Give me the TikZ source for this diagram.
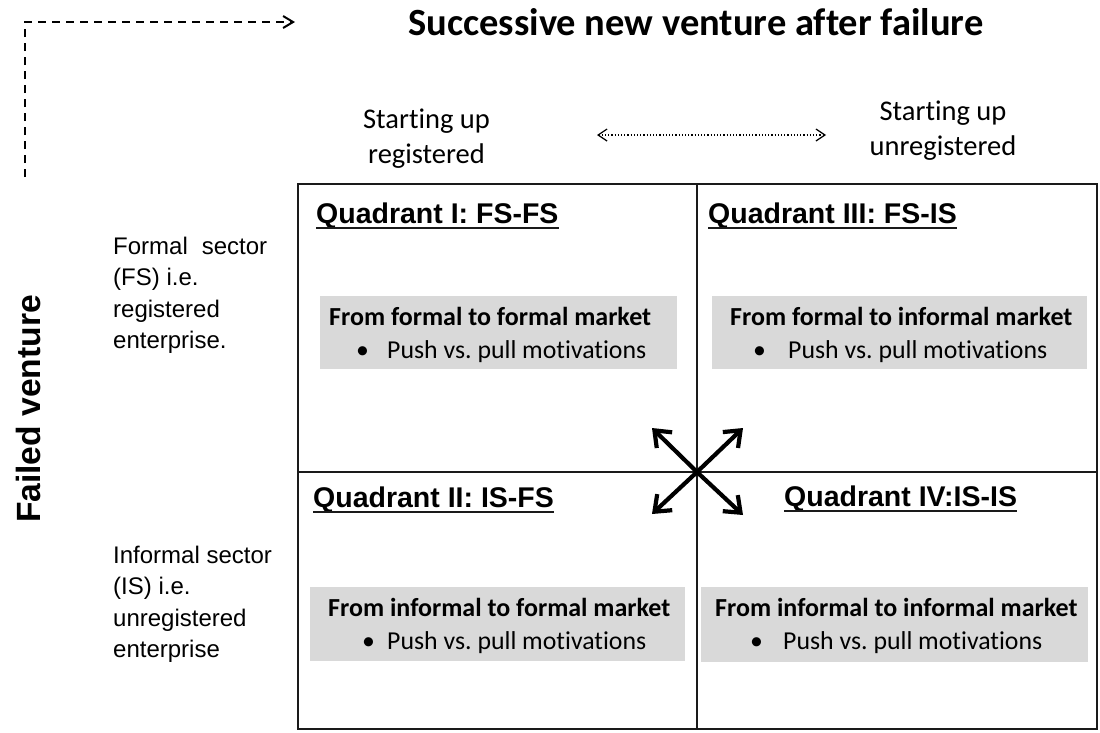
\documentclass[tikz,border=0pt]{standalone}
\usepackage{fontspec}
\setmainfont{Carlito}[Ligatures={NoCommon}]
\newfontfamily\arialf{Liberation Sans}
\usetikzlibrary{arrows.meta}
\definecolor{boxgray}{HTML}{D9D9D9}
\definecolor{linecol}{HTML}{1A1A1A}
\frenchspacing
\begin{document}
\begin{tikzpicture}[x=1pt,y=-1pt,
  gridline/.style={draw=linecol,line width=1.8pt},
  quadhead/.style={inner sep=0pt,anchor=base west,font=\arialf\bfseries\fontsize{28.5}{34}\selectfont},
  uline/.style={line width=1.8pt,draw=linecol},
  gbox/.style={fill=boxgray,draw=none,inner sep=0pt,outer sep=0pt,anchor=north west},
  boxhead/.style={inner sep=0pt,anchor=base west,font=\bfseries\fontsize{26}{31}\selectfont},
  boxtxt/.style={inner sep=0pt,anchor=base west,font=\fontsize{25.8}{31}\selectfont},
  sidelab/.style={inner sep=0pt,anchor=base west,font=\arialf\fontsize{24}{31.5}\selectfont},
  toplab/.style={inner sep=0pt,anchor=base,font=\fontsize{28.5}{35}\selectfont},
  crossarrow/.style={line width=4.2pt,line cap=round,-{Straight Barb[length=14pt,width=22pt]}},
  dasharrow/.style={line width=2pt,dash pattern=on 8pt off 6pt,-{Straight Barb[length=10pt,width=12pt]}},
  dotarrow/.style={line width=1.2pt,dotted,{Straight Barb[length=9pt,width=12pt]}-{Straight Barb[length=9pt,width=12pt]}}
]
\useasboundingbox (0,0) rectangle (1100,732);

% title
\node[inner sep=0pt,anchor=base,font=\bfseries\fontsize{38.5}{44}\selectfont] (title) at (696,35) {Successive new venture after failure};

% dashed corner arrow
\coordinate (d0) at (25,177);
\coordinate (d2) at (295,22);
\draw[dasharrow] (d0) |- (d2);

% top labels
\node[toplab] (reg) at (426.5,128) {\begin{tabular}[t]{@{}c@{}}Starting up\\registered\end{tabular}};
\node[toplab] (unreg) at (943,120) {\begin{tabular}[t]{@{}c@{}}Starting up\\unregistered\end{tabular}};
\coordinate (dl) at (597,135);
\coordinate (dr) at (826,135);
\draw[dotarrow] (dl) -- (dr);

% side labels
\node[inner sep=0pt,rotate=90,font=\arialf\bfseries\fontsize{33.6}{40}\selectfont] (failed) at (28,409) {Failed venture};
\node[sidelab] (fs) at (113,254) {\begin{tabular}[t]{@{}l@{}}\makebox[154pt][s]{Formal sector}\\(FS) i.e.\\registered\\enterprise.\end{tabular}};
\node[sidelab] (is) at (113,563) {\begin{tabular}[t]{@{}l@{}}Informal sector\\(IS) i.e.\\unregistered\\enterprise\end{tabular}};

% grid
\draw[gridline] (298,184) rectangle (1097,729);
\draw[gridline] (697,184) -- (697,729);
\draw[gridline] (298,472) -- (1097,472);

% gray boxes
\node[gbox,minimum width=357pt,minimum height=73pt] (b1) at (320,296) {};
\node[gbox,minimum width=375pt,minimum height=73pt] (b3) at (712,296) {};
\node[gbox,minimum width=375pt,minimum height=74pt] (b2) at (310,587) {};
\node[gbox,minimum width=387pt,minimum height=75pt] (b4) at (701,587) {};

% quadrant headings
\node[quadhead] (h1) at (316,223) {Quadrant I: FS-FS};
\node[quadhead] (h3) at (708,223) {Quadrant III: FS-IS};
\node[quadhead] (h2) at (313,507) {Quadrant II: IS-FS};
\node[quadhead] (h4) at (784,506) {Quadrant IV:IS-IS};
\foreach \h in {h1,h2,h3,h4}{
  \draw[uline] ([yshift=-5pt]\h.base west) -- ([yshift=-5pt]\h.base east);
}

% box texts
\node[boxhead] (t1) at (329,325) {From formal to formal market};
\node[boxtxt] (u1) at (356,358) {\textbullet};
\node[boxtxt] (p1) at (387,358) {Push vs. pull motivations};

\node[boxhead] (t3) at (730,325) {From formal to informal market};
\node[boxtxt] (u3) at (753,358) {\textbullet};
\node[boxtxt] (p3) at (788,358) {Push vs. pull motivations};

\node[boxhead] (t2) at (328,616) {From informal to formal market};
\node[boxtxt] (u2) at (362,649) {\textbullet};
\node[boxtxt] (p2) at (387,649) {Push vs. pull motivations};

\node[boxhead] (t4) at (715,616) {From informal to informal market};
\node[boxtxt] (u4) at (750,649) {\textbullet};
\node[boxtxt] (p4) at (783,649) {Push vs. pull motivations};

% cross arrows
\coordinate (c) at (697,472);
\coordinate (tul) at (652,428);
\coordinate (tur) at (743,428);
\coordinate (tll) at (652,514);
\coordinate (tlr) at (743,515);
\draw[crossarrow] (c) -- (tul);
\draw[crossarrow] (c) -- (tur);
\draw[crossarrow] (c) -- (tll);
\draw[crossarrow] (c) -- (tlr);
\end{tikzpicture}
\end{document}
